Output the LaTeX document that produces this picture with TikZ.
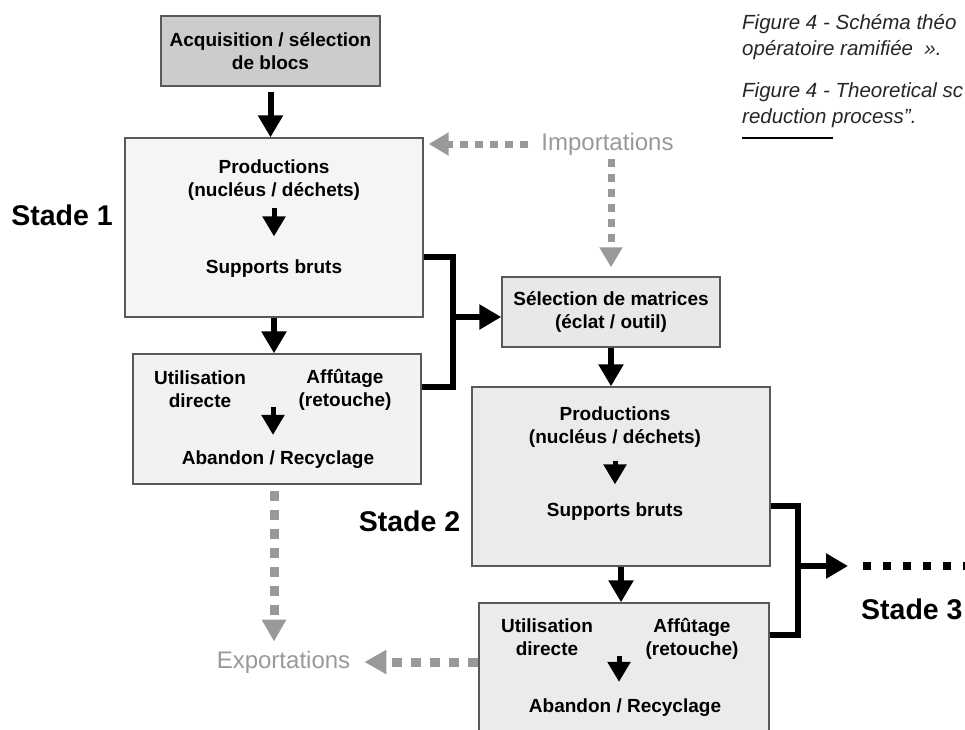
\documentclass[tikz,border=0pt]{standalone}
\usepackage{fontspec}
\setmainfont{Liberation Sans}
\usetikzlibrary{arrows.meta, positioning}

\begin{document}
\begin{tikzpicture}[x=1pt, y=-1pt,
	box/.style={draw=black!65, line width=1.4pt, inner sep=0pt},
	txt/.style={font=\bfseries\fontsize{19}{23}\selectfont, align=center, inner sep=0pt},
	stade/.style={font=\bfseries\fontsize{28.5}{32}\selectfont, inner sep=0pt},
	flux/.style={font=\fontsize{24}{28}\selectfont, text=black!40, inner sep=0pt},
	legende/.style={font=\itshape\fontsize{20.5}{24}\selectfont, text=black!85, inner sep=0pt, anchor=base west},
	fleche/.style={line width=6pt, -{Triangle[width=24pt, length=22pt]}},
	petite/.style={line width=5pt, -{Triangle[width=22pt, length=20pt]}},
	crochet/.style={line width=6pt, line join=miter},
	gris/.style={draw=black!40, line width=9pt, dash pattern=on 10pt off 9pt, -{Triangle[width=23pt, length=22pt]}},
	grisfin/.style={draw=black!40, line width=7pt, dash pattern=on 8pt off 7pt, -{Triangle[width=22pt, length=20pt]}},
	points/.style={line width=8pt, dash pattern=on 8pt off 12pt}
	]
	
	\useasboundingbox (0,0) rectangle (965,729);
	
	% boites
	\node[box, txt, fill=black!20, minimum width=219pt, minimum height=70pt] (acq) at (270.5,51) {Acquisition / sélection\\de blocs};
	\node[box, fill=black!4, minimum width=298pt, minimum height=179pt] (prodA) at (274,227.5) {};
	\node[box, fill=black!5, minimum width=288pt, minimum height=130pt] (useA) at (277,419) {};
	\node[box, txt, fill=black!9, minimum width=218pt, minimum height=70pt] (sel) at (611,312) {Sélection de matrices\\(éclat / outil)};
	\node[box, fill=black!8, minimum width=298pt, minimum height=179pt] (prodB) at (621,476.5) {};
	\node[box, fill=black!8, minimum width=290pt, minimum height=130pt] (useB) at (624,668) {};
	
	% stade 1
	\node[txt] (prodA1) at (274,180) {Productions\\(nucléus / déchets)};
	\node[txt] (supA) at (274,268.5) {Supports bruts};
	\draw[petite, shorten <=7pt, shorten >=23pt] (prodA1.south) -- (supA.north);
	\node[txt] (utilA) at (200,389) {Utilisation\\directe};
	\node[txt] (affA) at (345,390) {Affûtage\\(retouche)};
	\node[txt] (abA) at (278,460) {Abandon / Recyclage};
	\coordinate (depA) at (273,407);
	\draw[petite, shorten >=16pt] (depA) -- (depA |- abA.north);
	
	% stade 2
	\node[txt] (prodB1) at (615,427) {Productions\\(nucléus / déchets)};
	\node[txt] (supB) at (615,511.5) {Supports bruts};
	\draw[petite, shorten <=13pt, shorten >=18pt] (prodB1.south) -- (supB.north);
	\node[txt] (utilB) at (547,637.5) {Utilisation\\directe};
	\node[txt] (affB) at (692,638.5) {Affûtage\\(retouche)};
	\node[txt] (abB) at (625,708) {Abandon / Recyclage};
	\coordinate (depB) at (619,656);
	\draw[petite, shorten >=17pt] (depB) -- (depB |- abB.north);
	
	\node[stade] (st1) at (62,215) {Stade 1};
	\node[stade] (st2) at (409.5,521) {Stade 2};
	\node[stade, anchor=west] (st3) at (861,609) {Stade 3};
	
	% fleches principales
	\draw[fleche, shorten <=5pt] (acq.south) -- (acq.south |- prodA.north);
	\draw[fleche] (prodA.south) -- (prodA.south |- useA.north);
	\draw[fleche] (sel.south) -- (sel.south |- prodB.north);
	\draw[fleche] (prodB.south) -- (prodB.south |- useB.north);
	
	\coordinate (brA) at (453,317);
	\draw[crochet] (prodA.east |- 0,257) -| (brA) |- (useA.east |- 0,387);
	\draw[fleche] (brA) -- (brA -| sel.west);
	
	\coordinate (brB) at (798,566);
	\coordinate (suite) at (848,566);
	\draw[crochet] (prodB.east |- 0,506) -| (brB) |- (useB.east |- 0,635);
	\draw[fleche] (brB) -- (suite);
	\draw[points] (suite) ++(15,0) -- ++(102,0);
	
	% importations / exportations
	\node[flux] (imp) at (607.5,144) {Importations};
	\coordinate (impG) at ([xshift=5pt]prodA.north east);
	\draw[grisfin] ([xshift=-13pt]imp.west) -- (impG |- imp.west);
	\draw[grisfin, shorten <=4pt, shorten >=9pt] (sel.north |- imp.south) -- (sel.north);
	
	\node[flux] (exp) at (283.5,662) {Exportations};
	\draw[gris, shorten <=6pt, shorten >=9pt] (prodA.south |- useA.south) -- (prodA.south |- exp.north);
	\draw[gris, shorten >=14pt] (useB.west |- exp.east) -- (exp.east);
	
	% legende
	\node[legende] (lg1) at (742,29) {Figure 4 - Schéma théo};
	\node[legende] (lg2) at (742,55) {opératoire ramifiée\ \ ».};
	\node[legende] (lg3) at (742,97) {Figure 4 - Theoretical sc};
	\node[legende] (lg4) at (742,123) {reduction process”.};
	\draw[line width=1.2pt] (742,138) -- (833,138);
	
\end{tikzpicture}
\end{document}
